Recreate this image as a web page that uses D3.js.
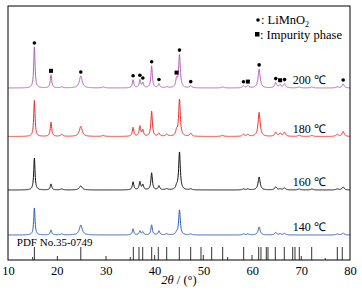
<!DOCTYPE html>
<html>
<head>
<meta charset="utf-8">
<script src="https://cdn.jsdelivr.net/npm/d3@7"></script>
<style>
  body { margin: 0; background: #fff; }
  text { font-family: "Liberation Serif", "Times New Roman", serif; }
</style>
</head>
<body>
<svg id="xrd" width="362" height="294"></svg>
<script>
// peak positions (2theta)
const peakPos = [15.4, 18.8, 21.0, 24.9, 29.5, 35.6, 37.0, 37.6, 39.4, 40.9, 42.5, 44.5, 45.1, 47.4, 53.9, 58.2, 59.1, 61.4, 64.8, 65.7, 66.6, 69.6, 72.2, 77.4, 78.6];
const peakWidth = [0.16, 0.18, 0.3, 0.35, 0.3, 0.18, 0.18, 0.18, 0.18, 0.2, 0.3, 0.2, 0.2, 0.25, 0.3, 0.25, 0.25, 0.25, 0.25, 0.25, 0.25, 0.3, 0.3, 0.3, 0.25];

// peak heights per sample (same order as peakPos)
const h200 = [41, 13, 1, 12, 1, 8, 8, 5, 22, 4, 1, 8, 33, 2, 1, 2, 2, 19, 5, 3, 4, 1, 1, 1, 4];
const h180 = [36, 14, 2, 10, 1, 9, 10, 6, 25, 3, 2, 5, 37, 3, 1, 2, 2, 24, 4, 3, 4, 1, 1, 2, 5];
const h160 = [32, 6, 1, 4, 0, 8, 8, 5, 17, 4, 1, 3, 38, 1, 0, 1, 1, 13, 3, 1, 2, 1, 1, 1, 3];
const h140 = [27, 5, 1, 10, 0, 6, 4, 3, 10, 4, 1, 2, 25, 1, 0, 1, 1, 8, 2.5, 1, 1.5, 0, 0, 1, 2];

const samples = ["200 ℃", "180 ℃", "160 ℃", "140 ℃"];
const sampleHeights = [h200, h180, h160, h140];
const sampleOffsets = [172, 123.5, 70, 25];
const sampleColors = ["#b462b8", "#ec2d2a", "#111111", "#2d5cb8"];

// markers on the 200 ℃ pattern
const limnoMarks = [15.4, 24.9, 35.6, 37.0, 37.6, 39.4, 40.9, 45.1, 47.4, 58.2, 61.4, 64.8, 66.6, 78.6];
const impurityMarks = [18.8, 44.5, 59.1, 65.7];

// PDF No.35-0749 reference lines
const pdfPos = [15.05, 15.4, 20.1, 24.9, 30.06, 35.03, 35.65, 36.81, 37.57, 39.41, 40.02, 40.76, 42.48, 45.06, 47.39, 49.5, 49.97, 51.69, 53.94, 54.96, 58.24, 59.94, 61.31, 61.78, 62.87, 63.21, 64.71, 66.55, 68.27, 68.74, 69.62, 70.03, 72.16, 74.94, 77.4, 78.42];
const pdfInt = [3, 13, 4, 13, 4, 3, 13, 13, 13, 13, 5, 13, 13, 13, 13, 13, 5, 13, 13, 3, 13, 5, 13, 13, 13, 13, 13, 13, 13, 13, 13, 4, 13, 2, 13, 13];

const xTicks = [10, 20, 30, 40, 50, 60, 70, 80];

const margin = { top: 6, right: 12, bottom: 34, left: 8 };
const width = 362, height = 294;

const svg = d3.select("#xrd");

const x = d3.scaleLinear()
  .domain([10, 80])
  .range([margin.left, width - margin.right]);

const y = d3.scaleLinear()
  .domain([0, height - margin.top - margin.bottom])
  .range([height - margin.bottom, margin.top]);

// profile from peak list (lorentzian shape)
const grid = d3.range(10, 80.001, 0.04);
const profile = function (heights, t) {
  let s = 0;
  for (let i = 0; i < peakPos.length; ++i) {
    const g = peakWidth[i];
    const d = (t - peakPos[i]) / g;
    s += heights[i] / (1 + d * d);
  }
  return s;
}

const line = d3.line()
  .x(d => x(d[0]))
  .y(d => y(d[1]));

samples.forEach((name, i) => {
  const pts = grid.map(t => [t, sampleOffsets[i] + profile(sampleHeights[i], t)]);
  svg.append("path")
    .attr("d", line(pts))
    .attr("fill", "none")
    .attr("stroke", sampleColors[i])
    .attr("stroke-width", 1);

  svg.append("text")
    .attr("x", x(68.3))
    .attr("y", y(sampleOffsets[i] + 4))
    .attr("font-size", 12)
    .text(name);
});

// phase markers
const markerY = t => y(sampleOffsets[0] + profile(h200, t) + 4);
svg.append("g").selectAll("circle")
  .data(limnoMarks)
  .join("circle")
  .attr("cx", d => x(d))
  .attr("cy", markerY)
  .attr("r", 1.8)
  .attr("fill", "#000");

svg.append("g").selectAll("rect")
  .data(impurityMarks)
  .join("rect")
  .attr("x", d => x(d) - 2)
  .attr("y", d => markerY(d) - 2)
  .attr("width", 4)
  .attr("height", 4)
  .attr("fill", "#000");

// PDF sticks
svg.append("g").selectAll("line")
  .data(pdfPos)
  .join("line")
  .attr("x1", d => x(d))
  .attr("x2", d => x(d))
  .attr("y1", y(0))
  .attr("y2", (d, i) => y(pdfInt[i]))
  .attr("stroke", "#333")
  .attr("stroke-width", 1);

svg.append("text")
  .attr("x", x(11.8))
  .attr("y", y(14))
  .attr("font-size", 11)
  .text("PDF No.35-0749");

// legend
const legend = svg.append("g").attr("font-size", 12.5);
legend.append("circle").attr("cx", 258).attr("cy", 20).attr("r", 1.8).attr("fill", "#000");
const l1 = legend.append("text").attr("x", 261).attr("y", 24);
l1.append("tspan").text(": LiMnO");
l1.append("tspan").attr("font-size", 8).attr("dy", 3).text("2");
legend.append("rect").attr("x", 255).attr("y", 32).attr("width", 4.5).attr("height", 4.5).attr("fill", "#000");
legend.append("text").attr("x", 260).attr("y", 39).text(": Impurity phase");

// frame
svg.append("rect")
  .attr("x", margin.left)
  .attr("y", margin.top)
  .attr("width", width - margin.left - margin.right)
  .attr("height", height - margin.top - margin.bottom)
  .attr("fill", "none")
  .attr("stroke", "#000")
  .attr("stroke-width", 1);

// x axis labels
const xAxis = svg.append("g")
  .attr("transform", `translate(0,${height - margin.bottom})`)
  .call(d3.axisBottom(x).tickValues(xTicks).tickSize(0).tickPadding(6));
xAxis.select(".domain").remove();
xAxis.selectAll("text")
  .attr("font-family", "Liberation Serif, serif")
  .attr("font-size", 12.5)
  .attr("fill", "#000");

const title = svg.append("text")
  .attr("x", x(45))
  .attr("y", 284)
  .attr("text-anchor", "middle")
  .attr("font-size", 12.5);
title.append("tspan").attr("font-style", "italic").text("2θ");
title.append("tspan").text(" / (°)");
</script>
</body>
</html>
